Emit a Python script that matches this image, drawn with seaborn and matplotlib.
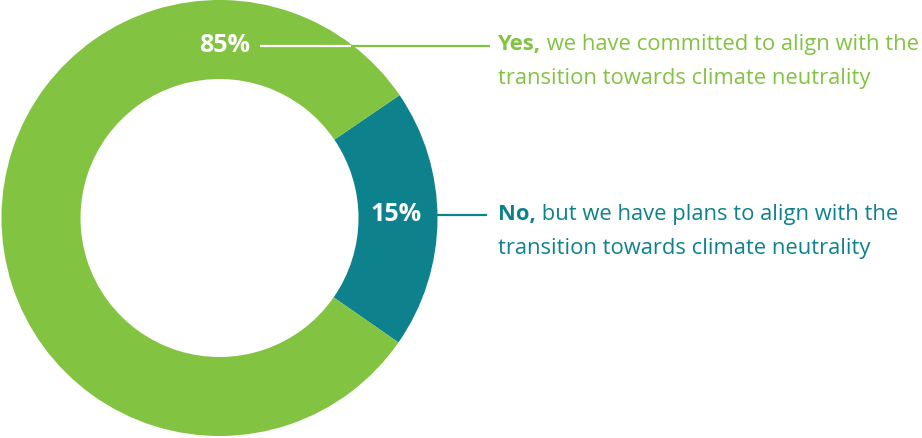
import seaborn as sns
import matplotlib.pyplot as plt

# wedge shares as drawn in the picture, and the labels printed on it
shares = [19.2, 80.8]
pct_labels = ["15%", "85%"]
bold_words = ["No,", "Yes,"]
line_one = [" but we have plans to align with the", " we have committed to align with the"]
line_two = ["transition towards climate neutrality", "transition towards climate neutrality"]
colors = ["#0e828c", "#82c341"]

sns.set_theme(style="white")
plt.rcParams["font.family"] = ["Open Sans", "DejaVu Sans"]

fig = plt.figure(figsize=(9.22, 4.39), dpi=100)
ax = fig.add_axes([0, 0, 1, 1])

cx, cy, r_out, ring = 219.5, 219, 218, 79
wedges, _ = ax.pie(shares, colors=colors, startangle=-34.3, counterclock=True,
                   center=(cx, cy), radius=r_out, frame=True,
                   wedgeprops=dict(width=ring, linewidth=0))
ax.set_xlim(0, 922)
ax.set_ylim(439, 0)
ax.set_aspect("equal")
ax.axis("off")

# percentage labels inside the ring
ax.text(396, 215, pct_labels[0], color="white", fontsize=18, fontweight="bold",
        ha="center", va="center")
ax.text(225, 45, pct_labels[1], color="white", fontsize=18, fontweight="bold",
        ha="center", va="center")

# leader lines
ax.plot([437, 487], [216, 216], color=colors[0], lw=1.6, solid_capstyle="butt")
ax.plot([260, 490], [46.5, 46.5], color=colors[1], lw=1.6, solid_capstyle="butt")
ax.plot([260, 351], [46.5, 46.5], color="white", lw=1.6, solid_capstyle="butt")

# descriptions with bold lead word
fig.canvas.draw()
renderer = fig.canvas.get_renderer()
for bold, first, second, col, base in zip(bold_words, line_one, line_two, colors, [220, 50]):
    t = ax.text(498, base, bold, color=col, fontsize=15.8, fontweight="bold", va="baseline")
    w = t.get_window_extent(renderer).width
    ax.text(498 + w, base, first, color=col, fontsize=15.8, va="baseline")
    ax.text(498, base + 34, second, color=col, fontsize=15.8, va="baseline")

fig.savefig("out.png", dpi=100)
